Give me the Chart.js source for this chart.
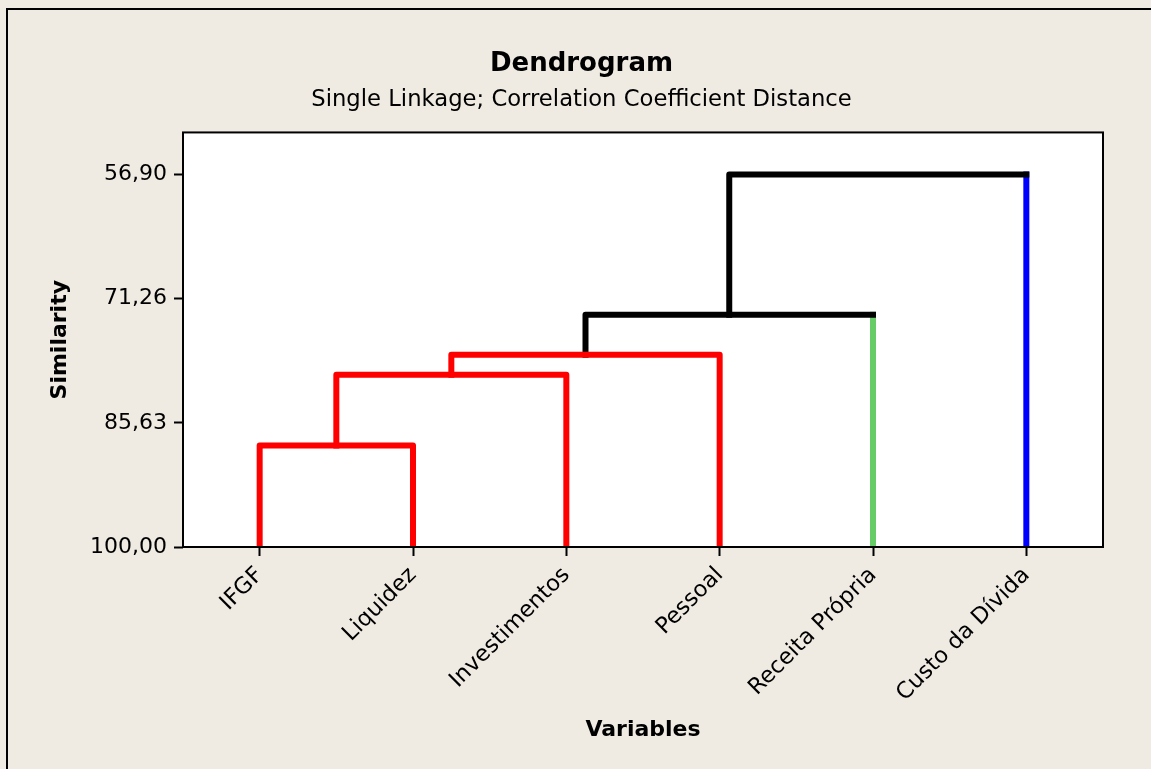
<!DOCTYPE html>
<html>
<head>
<meta charset="utf-8">
<script src="https://cdn.jsdelivr.net/npm/chart.js@4.4.1/dist/chart.umd.min.js"></script>
<style>
  html, body { margin: 0; padding: 0; background: #EFEBE2; }
  #wrap { width: 1151px; height: 769px; position: relative; }
</style>
</head>
<body>
<div id="wrap"><canvas id="dendro"></canvas></div>
<script>
  // leaves, in the order they appear on the axis
  const variables = ["IFGF", "Liquidez", "Investimentos", "Pessoal", "Receita Própria", "Custo da Dívida"];
  const leafColors = ["#FF0000", "#FF0000", "#FF0000", "#FF0000", "#66CC66", "#0000FF"];

  // merge steps: ids 0-5 are leaves, merge i creates cluster 6 + i
  const mergeLeft = [0, 6, 7, 8, 9];
  const mergeRight = [1, 2, 3, 4, 5];
  const mergeSimilarity = [88.26, 80.07, 77.75, 73.12, 56.90];
  const mergeColors = ["#FF0000", "#FF0000", "#FF0000", "#000000", "#000000"];

  const similarityTicks = [56.90, 71.26, 85.63, 100.00];

  const FONT = "'DejaVu Sans', Verdana, sans-serif";

  // node positions (x = leaf index, y = similarity)
  const nodeX = variables.map((v, i) => i);
  const nodeY = variables.map(() => 100);
  mergeLeft.forEach((l, i) => {
    const r = mergeRight[i];
    nodeX.push((nodeX[l] + nodeX[r]) / 2);
    nodeY.push(mergeSimilarity[i]);
  });

  // build coloured polylines for each merge
  const datasets = [];
  function addRun(points, color) {
    datasets.push({
      data: points,
      borderColor: color,
      borderWidth: 6,
      pointRadius: 0,
      showLine: true,
      borderJoinStyle: "round",
      borderCapStyle: "square",
      clip: 0
    });
  }
  mergeLeft.forEach((l, i) => {
    const r = mergeRight[i];
    const h = mergeSimilarity[i];
    const pieces = [
      { pts: [{ x: nodeX[l], y: nodeY[l] }, { x: nodeX[l], y: h }], color: l < variables.length ? leafColors[l] : mergeColors[i] },
      { pts: [{ x: nodeX[l], y: h }, { x: nodeX[r], y: h }], color: mergeColors[i] },
      { pts: [{ x: nodeX[r], y: h }, { x: nodeX[r], y: nodeY[r] }], color: r < variables.length ? leafColors[r] : mergeColors[i] }
    ];
    let run = null;
    pieces.forEach(p => {
      if (run && run.color === p.color) {
        run.pts.push(p.pts[1]);
      } else {
        if (run) addRun(run.pts, run.color);
        run = { pts: p.pts.slice(), color: p.color };
      }
    });
    addRun(run.pts, run.color);
  });

  const framePlugin = {
    id: "frame",
    beforeDraw(chart) {
      const { ctx, chartArea: a } = chart;
      ctx.save();
      ctx.fillStyle = "#EFEBE2";
      ctx.fillRect(0, 0, chart.width, chart.height);
      ctx.fillStyle = "#000";
      ctx.fillRect(6, 8, 2, chart.height);
      ctx.fillRect(6, 8, chart.width, 2);
      ctx.fillStyle = "#FFFFFF";
      ctx.fillRect(a.left, a.top, a.right - a.left, a.bottom - a.top);
      ctx.restore();
    },
    afterDraw(chart) {
      const { ctx, chartArea: a } = chart;
      ctx.save();
      ctx.strokeStyle = "#000";
      ctx.lineWidth = 2;
      ctx.strokeRect(a.left, a.top, a.right - a.left, a.bottom - a.top);
      ctx.restore();
    }
  };

  new Chart(document.getElementById("dendro"), {
    type: "scatter",
    data: { datasets: datasets },
    plugins: [framePlugin],
    options: {
      responsive: true,
      maintainAspectRatio: false,
      animation: false,
      layout: { padding: { top: 0, left: 12, right: 0, bottom: 0 } },
      plugins: {
        legend: { display: false },
        tooltip: { enabled: false },
        title: {
          display: true,
          text: "Dendrogram",
          color: "#000",
          font: { family: FONT, size: 26, weight: "bold" },
          padding: { top: 49, bottom: 4 }
        },
        subtitle: {
          display: true,
          text: "Single Linkage; Correlation Coefficient Distance",
          color: "#000",
          font: { family: FONT, size: 22.7 },
          padding: { top: 2, bottom: 19 }
        }
      },
      scales: {
        x: {
          type: "linear",
          min: -0.5,
          max: 5.5,
          afterBuildTicks: s => { s.ticks = variables.map((v, i) => ({ value: i })); },
          afterFit: s => { s.height = 222; },
          ticks: {
            autoSkip: false,
            minRotation: 45,
            maxRotation: 45,
            padding: 6,
            color: "#000",
            font: { family: FONT, size: 22.5 },
            callback: v => variables[v]
          },
          grid: { drawOnChartArea: false, drawTicks: true, tickLength: 9, tickColor: "#000", tickWidth: 2 },
          border: { display: false },
          title: {
            display: true,
            text: "Variables",
            color: "#000",
            font: { family: FONT, size: 22, weight: "bold" },
            padding: { top: 26, bottom: 26 }
          }
        },
        y: {
          type: "linear",
          reverse: true,
          min: 52.03,
          max: 100,
          afterBuildTicks: s => { s.ticks = similarityTicks.map(v => ({ value: v })); },
          afterFit: s => { s.width = 171; },
          ticks: {
            padding: 7,
            color: "#000",
            font: { family: FONT, size: 22 },
            callback: v => v.toFixed(2).replace(".", ",")
          },
          grid: { drawOnChartArea: false, drawTicks: true, tickLength: 9, tickColor: "#000", tickWidth: 2 },
          border: { display: false },
          title: {
            display: true,
            text: "Similarity",
            color: "#000",
            font: { family: FONT, size: 22, weight: "bold" },
            padding: { top: 35, bottom: 0 }
          }
        },
        // empty right-hand strip so the plot ends where the reference's does
        yRight: {
          type: "linear",
          position: "right",
          min: 0,
          max: 1,
          afterFit: s => { s.width = 48; },
          ticks: { display: false },
          grid: { display: false },
          border: { display: false }
        }
      }
    }
  });
</script>
</body>
</html>
